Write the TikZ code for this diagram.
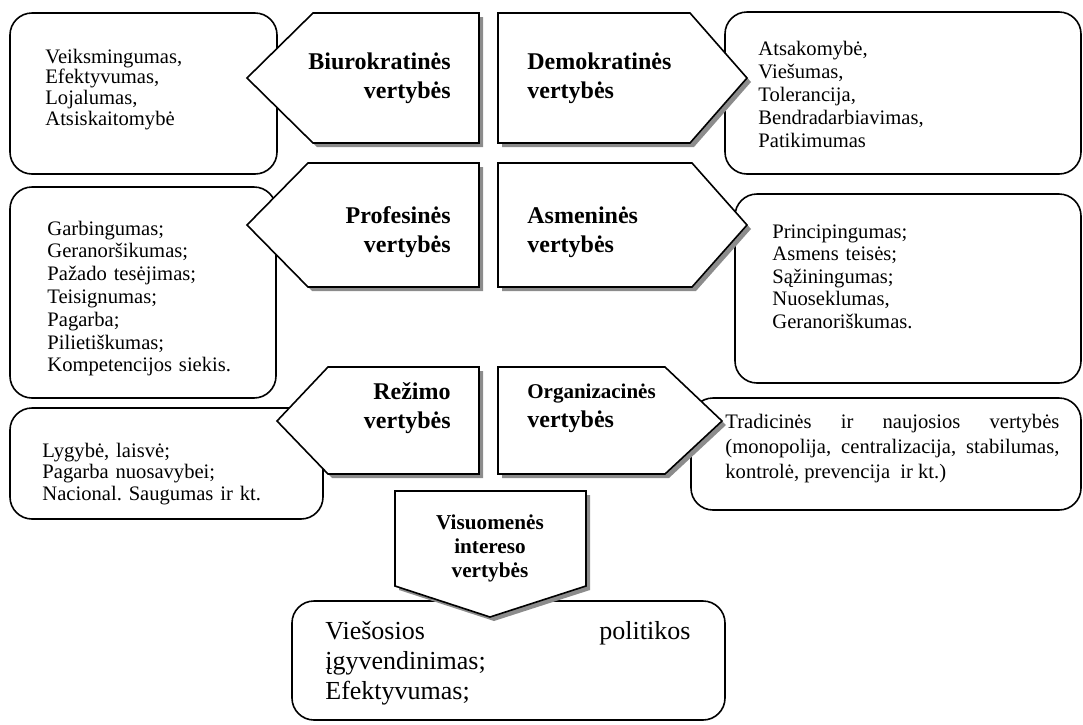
\documentclass[tikz,border=0pt]{standalone}
\usepackage{fontspec}
\setmainfont{Liberation Serif}
\frenchspacing
\tikzset{
    %Define style for rounded list boxes
    listbox/.style={
           draw=black, line width=0.8pt,
           rounded corners=11pt},
    %Define style for value arrows
    valarrow/.style={
           draw=black, line width=0.8pt,
           fill=white},
    %Define style for arrow shadows
    valshadow/.style={
           draw=none,
           fill=black!45},
    %Define style for list texts
    listtext/.style={
           inner sep=0pt,
           text width=#1,
           align=left},
    listtext/.default=120pt,
    %Define style for arrow labels
    lbltext/.style={
           inner sep=0pt,
           text width=100pt,
           font=\bfseries\fontsize{12}{14.5}\selectfont}
}
\begin{document}
\begin{tikzpicture}[x=0.5pt,y=-0.5pt]
 \useasboundingbox (0,0) rectangle (1083,724);
 %list boxes
 \draw[listbox] (10,13) rectangle (277,174);
 \draw[listbox] (725,12) rectangle (1081,174);
 \draw[listbox] (10,187) rectangle (276,398);
 \draw[listbox] (735,194) rectangle (1081,383);
 \draw[listbox] (10,408) rectangle (323,519);
 \draw[listbox] (691,398) rectangle (1081,510);
 \draw[listbox] (292,601) rectangle (725,720);
 %arrows, shadow first
 \foreach \sty/\d in {valshadow/4,valarrow/0} {
   \draw[\sty, shift={(\d,\d)}] (247,78) -- (313,13) -- (479,13) -- (479,143) -- (313,143) -- cycle;
   \draw[\sty, shift={(\d,\d)}] (498,13) -- (690,13) -- (747,78) -- (690,143) -- (498,143) -- cycle;
   \draw[\sty, shift={(\d,\d)}] (247,225) -- (308,163) -- (479,163) -- (479,287) -- (308,287) -- cycle;
   \draw[\sty, shift={(\d,\d)}] (498,163) -- (692,163) -- (747,225) -- (692,287) -- (498,287) -- cycle;
   \draw[\sty, shift={(\d,\d)}] (277,421) -- (328,367) -- (479,367) -- (479,474) -- (328,474) -- cycle;
   \draw[\sty, shift={(\d,\d)}] (498,367) -- (665,367) -- (722,421) -- (665,474) -- (498,474) -- cycle;
   \draw[\sty, shift={(\d,\d)}] (395,491) -- (586,491) -- (586,586) -- (490,617) -- (395,586) -- cycle;
 }
 %arrow labels
 \node[lbltext, align=right, anchor=base east] (biurlbl) at (451,69) {Biurokratinės\\vertybės};
 \node[lbltext, align=left, anchor=base west] (demlbl) at (527,69) {Demokratinės\\vertybės};
 \node[lbltext, align=right, anchor=base east] (proflbl) at (451,223) {Profesinės\\vertybės};
 \node[lbltext, align=left, anchor=base west] (asmlbl) at (527,223) {Asmeninės\\vertybės};
 \node[lbltext, align=right, anchor=base east] (rezlbl) at (451,399) {Režimo\\vertybės};
 \node[lbltext, align=left, anchor=base west] (orglbl) at (527,398)
   {{\fontsize{10.5}{14}\selectfont Organizacinės}\\vertybės};
 \node[lbltext, align=center, anchor=base, font=\bfseries\fontsize{10.6}{12.2}\selectfont] (vislbl) at (490,529)
   {Visuomenės\\intereso\\vertybės};
 %list texts
 \node[listtext, anchor=base west, font=\fontsize{10.3}{10.4}\selectfont] (biurlist) at (45,63)
   {Veiksmingumas,\\Efektyvumas,\\Lojalumas,\\Atsiskaitomybė};
 \node[listtext, anchor=base west, font=\fontsize{10.3}{11.5}\selectfont] (demlist) at (758,55)
   {Atsakomybė,\\Viešumas,\\Tolerancija,\\Bendradarbiavimas,\\Patikimumas};
 \node[listtext, anchor=base west, font=\fontsize{10.3}{11.4}\selectfont] (proflist) at (47,235)
   {Garbingumas;\\Geranoršikumas;\\Pažado tesėjimas;\\Teisignumas;\\Pagarba;\\Pilietiškumas;\\Kompetencijos siekis.};
 \node[listtext, anchor=base west, font=\fontsize{10.3}{11.25}\selectfont] (asmlist) at (772,238)
   {Principingumas;\\Asmens teisės;\\Sąžiningumas;\\Nuoseklumas,\\Geranoriškumas.};
 \node[listtext, anchor=base west, font=\fontsize{10.3}{10.75}\selectfont] (rezlist) at (42,457)
   {Lygybė, laisvė;\\Pagarba nuosavybei;\\Nacional. Saugumas ir kt.};
 \node[listtext=167pt, align=justify, anchor=base west, font=\fontsize{10.3}{12.6}\selectfont] (orglist) at (725,428)
   {Tradicinės ir naujosios vertybės\linebreak (monopolija, centralizacija, stabilumas,\linebreak kontrolė, prevencija\ \ ir kt.)};
 \node[listtext=182.5pt, align=justify, anchor=base west, font=\fontsize{13}{15}\selectfont] (vislist) at (325,639)
   {Viešosios politikos\linebreak įgyvendinimas;\\Efektyvumas;};
\end{tikzpicture}
\end{document}
